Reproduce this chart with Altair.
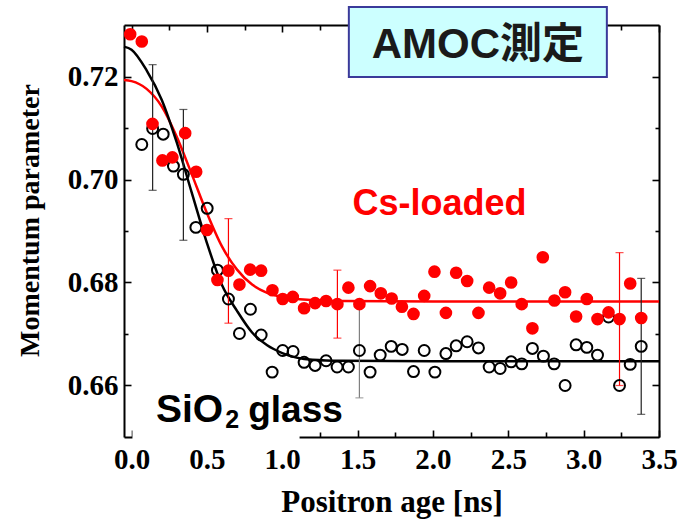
import altair as alt
import pandas as pd

# ---------------- data ----------------
cs_age = [-0.009, 0.068, 0.139, 0.205, 0.271, 0.356, 0.429, 0.500, 0.570, 0.643,
          0.716, 0.787, 0.860, 0.935, 1.003, 1.070, 1.145, 1.218, 1.291, 1.366,
          1.439, 1.512, 1.583, 1.654, 1.726, 1.794, 1.871, 1.942, 2.010, 2.086,
          2.154, 2.227, 2.302, 2.373, 2.446, 2.519, 2.589, 2.660, 2.729, 2.806,
          2.877, 2.950, 3.021, 3.092, 3.165, 3.238, 3.309, 3.382]
cs_mom = [0.7282, 0.7268, 0.7108, 0.7037, 0.7043, 0.7090, 0.7015, 0.6902, 0.6805, 0.6823,
          0.6796, 0.6825, 0.6823, 0.6785, 0.6768, 0.6772, 0.6750, 0.6760, 0.6764, 0.6758,
          0.6790, 0.6758, 0.6793, 0.6779, 0.6769, 0.6753, 0.6739, 0.6774, 0.6821, 0.6741,
          0.6819, 0.6803, 0.6741, 0.6790, 0.6779, 0.6800, 0.6758, 0.6711, 0.6849, 0.6765,
          0.6781, 0.6734, 0.6768, 0.6729, 0.6742, 0.6729, 0.6798, 0.6731]

sio2_age = [0.068, 0.140, 0.210, 0.278, 0.344, 0.427, 0.502, 0.570, 0.643, 0.716,
            0.789, 0.860, 0.933, 1.003, 1.072, 1.145, 1.218, 1.291, 1.364, 1.439,
            1.512, 1.583, 1.650, 1.723, 1.796, 1.871, 1.942, 2.013, 2.086, 2.154,
            2.227, 2.302, 2.373, 2.446, 2.519, 2.589, 2.660, 2.733, 2.804, 2.877,
            2.950, 3.021, 3.092, 3.165, 3.238, 3.309, 3.382]
sio2_mom = [0.7068, 0.7099, 0.7088, 0.7026, 0.7010, 0.6907, 0.6944, 0.6824, 0.6768, 0.6701,
            0.6748, 0.6698, 0.6626, 0.6668, 0.6666, 0.6645, 0.6639, 0.6648, 0.6636, 0.6636,
            0.6668, 0.6626, 0.6659, 0.6676, 0.6670, 0.6627, 0.6668, 0.6626, 0.6662, 0.6677,
            0.6685, 0.6673, 0.6636, 0.6633, 0.6646, 0.6642, 0.6672, 0.6657, 0.6642, 0.6600,
            0.6679, 0.6674, 0.6659, 0.6733, 0.6600, 0.6641, 0.6676]

fit_age = [-0.05, 0.0, 0.1, 0.2, 0.3, 0.4, 0.5, 0.6, 0.7, 0.8, 0.9, 1.0, 1.2, 1.4, 2.0, 3.5]
cs_fit = [0.7193, 0.7191, 0.7176, 0.7142, 0.7083, 0.7010, 0.6935, 0.6870, 0.6825, 0.6796,
          0.6780, 0.6772, 0.6766, 0.6764, 0.6763, 0.6763]
sio2_fit = [0.7258, 0.7252, 0.7212, 0.7155, 0.7072, 0.6974, 0.6877, 0.6795, 0.6745, 0.6703,
            0.6678, 0.6663, 0.6650, 0.6648, 0.6647, 0.6647]

cs_err_age = [0.643, 1.366, 3.238]
cs_err_lo = [0.6721, 0.6692, 0.6600]
cs_err_hi = [0.6924, 0.6824, 0.6858]

sio2_err_age = [0.140, 0.344, 1.512, 3.382]
sio2_err_lo = [0.6979, 0.6882, 0.6576, 0.6544]
sio2_err_hi = [0.7223, 0.7136, 0.6760, 0.6808]

x_major = [0.0, 0.5, 1.0, 1.5, 2.0, 2.5, 3.0, 3.5]
x_minor = [0.25, 0.75, 1.25, 1.75, 2.25, 2.75, 3.25]
y_major = [0.66, 0.68, 0.70, 0.72]
y_minor = [0.67, 0.69, 0.71]

# ---------------- styling ----------------
SERIF = "Liberation Serif"
SANS = "Liberation Sans, Noto Sans CJK JP"
RED = "#FF0000"

cs_df = pd.DataFrame({"age": cs_age, "mom": cs_mom})
sio2_df = pd.DataFrame({"age": sio2_age, "mom": sio2_mom})
fit_df = pd.DataFrame({"age": fit_age, "cs": cs_fit, "sio2": sio2_fit})
cs_err_df = pd.DataFrame({"age": cs_err_age, "lo": cs_err_lo, "hi": cs_err_hi})
sio2_err_df = pd.DataFrame({"age": sio2_err_age, "lo": sio2_err_lo, "hi": sio2_err_hi})
dummy = pd.DataFrame({"k": [0]})

xs = alt.Scale(domain=[-0.05, 3.5], nice=False, zero=False)
ys = alt.Scale(domain=[0.65, 0.73], nice=False, zero=False)


def ax_layer(xaxis, yaxis):
    return alt.Chart(cs_df).mark_point(opacity=0).encode(
        x=alt.X("age:Q", scale=xs, axis=xaxis),
        y=alt.Y("mom:Q", scale=ys, axis=yaxis),
    )


def tick_axis(orient, values, size):
    return alt.Axis(orient=orient, values=values, offset=-size, tickSize=size,
                    tickWidth=1.6, tickColor="black", ticks=True, labels=False,
                    domain=False, grid=False, title=None)


main_axes = ax_layer(
    alt.Axis(orient="bottom", values=x_major, format=".1f", grid=False, ticks=False,
             domain=True, domainColor="black", domainWidth=2,
             labelFont=SERIF, labelFontSize=29, labelFontWeight="bold", labelColor="black",
             labelPadding=8, labelFlush=False, labelOverlap=False,
             title="Positron age [ns]", titleFont=SERIF, titleFontSize=31,
             titleFontWeight="bold", titleColor="black", titleX=267.5, titleY=65,
             titleAlign="center", titleBaseline="middle"),
    alt.Axis(orient="left", values=y_major, format=".2f", grid=False, ticks=False,
             domain=True, domainColor="black", domainWidth=2,
             labelFont=SERIF, labelFontSize=29, labelFontWeight="bold", labelColor="black",
             labelPadding=6, labelFlush=False, labelOverlap=False,
             title="Momentum parameter", titleFont=SERIF, titleFontSize=28,
             titleFontWeight="bold", titleColor="black", titleX=-94, titleY=195,
             titleAngle=270, titleAlign="center", titleBaseline="middle"),
)
major_bl = ax_layer(tick_axis("bottom", x_major, 7), tick_axis("left", y_major, 7))
minor_bl = ax_layer(tick_axis("bottom", x_minor, 5), tick_axis("left", y_minor, 4))
frame_tr = ax_layer(
    alt.Axis(orient="top", domain=True, domainColor="black", domainWidth=2, ticks=False,
             labels=False, grid=False, title=None),
    alt.Axis(orient="right", domain=True, domainColor="black", domainWidth=2, ticks=False,
             labels=False, grid=False, title=None),
)
major_tr = ax_layer(tick_axis("top", x_major, 7), tick_axis("right", y_major, 7))
minor_tr = ax_layer(tick_axis("top", x_minor, 5), tick_axis("right", y_minor, 4))

# fit curves
cs_line = alt.Chart(fit_df).mark_line(color=RED, strokeWidth=2.5, interpolate="monotone").encode(
    x=alt.X("age:Q", scale=xs, axis=None), y=alt.Y("cs:Q", scale=ys, axis=None))
sio2_line = alt.Chart(fit_df).mark_line(color="black", strokeWidth=2.5, interpolate="monotone").encode(
    x=alt.X("age:Q", scale=xs, axis=None), y=alt.Y("sio2:Q", scale=ys, axis=None))

# error bars
cs_bar = alt.Chart(cs_err_df).mark_rule(color=RED, strokeWidth=1.2).encode(
    x=alt.X("age:Q", scale=xs, axis=None), y=alt.Y("lo:Q", scale=ys, axis=None), y2="hi:Q")
cs_cap_lo = alt.Chart(cs_err_df).mark_tick(color=RED, orient="horizontal", size=8, thickness=1.2).encode(
    x=alt.X("age:Q", scale=xs, axis=None), y=alt.Y("lo:Q", scale=ys, axis=None))
cs_cap_hi = alt.Chart(cs_err_df).mark_tick(color=RED, orient="horizontal", size=8, thickness=1.2).encode(
    x=alt.X("age:Q", scale=xs, axis=None), y=alt.Y("hi:Q", scale=ys, axis=None))

sio2_color = alt.condition("datum.age > 1.4 && datum.age < 1.6",
                           alt.value("#808080"), alt.value("#222222"))
sio2_bar = alt.Chart(sio2_err_df).mark_rule(strokeWidth=1.2).encode(
    x=alt.X("age:Q", scale=xs, axis=None), y=alt.Y("lo:Q", scale=ys, axis=None), y2="hi:Q",
    color=sio2_color)
sio2_cap_lo = alt.Chart(sio2_err_df).mark_tick(orient="horizontal", size=8, thickness=1.2).encode(
    x=alt.X("age:Q", scale=xs, axis=None), y=alt.Y("lo:Q", scale=ys, axis=None), color=sio2_color)
sio2_cap_hi = alt.Chart(sio2_err_df).mark_tick(orient="horizontal", size=8, thickness=1.2).encode(
    x=alt.X("age:Q", scale=xs, axis=None), y=alt.Y("hi:Q", scale=ys, axis=None), color=sio2_color)

# points
sio2_pts = alt.Chart(sio2_df).mark_point(shape="circle", filled=False, color="black",
                                         size=120, strokeWidth=2, opacity=1).encode(
    x=alt.X("age:Q", scale=xs, axis=None), y=alt.Y("mom:Q", scale=ys, axis=None))
cs_pts = alt.Chart(cs_df).mark_circle(color=RED, size=160, opacity=1).encode(
    x=alt.X("age:Q", scale=xs, axis=None), y=alt.Y("mom:Q", scale=ys, axis=None))

# annotations
white_box = alt.Chart(dummy).mark_rect(fill="white").encode(
    x=alt.X(datum=0.006, scale=xs, axis=None), x2=alt.X2(datum=1.115),
    y=alt.Y(datum=0.6584, scale=ys, axis=None), y2=alt.Y2(datum=0.6493))


def label(txt, x, y, size, color="black", align="left", baseline="alphabetic"):
    return alt.Chart(dummy).mark_text(text=txt, font=SANS, fontWeight="bold", fontSize=size,
                                      color=color, align=align, baseline=baseline).encode(
        x=alt.X(datum=x, scale=xs, axis=None), y=alt.Y(datum=y, scale=ys, axis=None))


sio_txt = label("SiO", 0.162, 0.6529, 39)
sub_txt = label("2", 0.622, 0.6518, 25)
glass_txt = label("glass", 0.774, 0.6529, 37)
cs_txt = label("Cs-loaded", 2.044, 0.6952, 36, color=RED, align="center", baseline="middle")

amoc_box = alt.Chart(dummy).mark_rect(fill="#CCFFFF", stroke="#3A3A9A", strokeWidth=2).encode(
    x=alt.X(datum=1.442, scale=xs, axis=None), x2=alt.X2(datum=3.154),
    y=alt.Y(datum=0.7335, scale=ys, axis=None), y2=alt.Y2(datum=0.7199))
amoc_txt = label("AMOC測定", 2.298, 0.7262, 42, color="#1A1A1A", align="center", baseline="middle")

chart = alt.layer(
    main_axes, major_bl, minor_bl, frame_tr, major_tr, minor_tr,
    cs_line, sio2_line,
    cs_bar, cs_cap_lo, cs_cap_hi, sio2_bar, sio2_cap_lo, sio2_cap_hi,
    sio2_pts, cs_pts,
    white_box, sio_txt, sub_txt, glass_txt, cs_txt,
    amoc_box, amoc_txt,
).resolve_axis(x="independent", y="independent").properties(
    width=535, height=412,
    autosize=alt.AutoSizeParams(type="none"),
    padding={"left": 124, "top": 25, "right": 34, "bottom": 87},
    background="white",
).configure_view(stroke=None)

chart.save("out.html", embed_options={"renderer": "svg", "actions": False})
